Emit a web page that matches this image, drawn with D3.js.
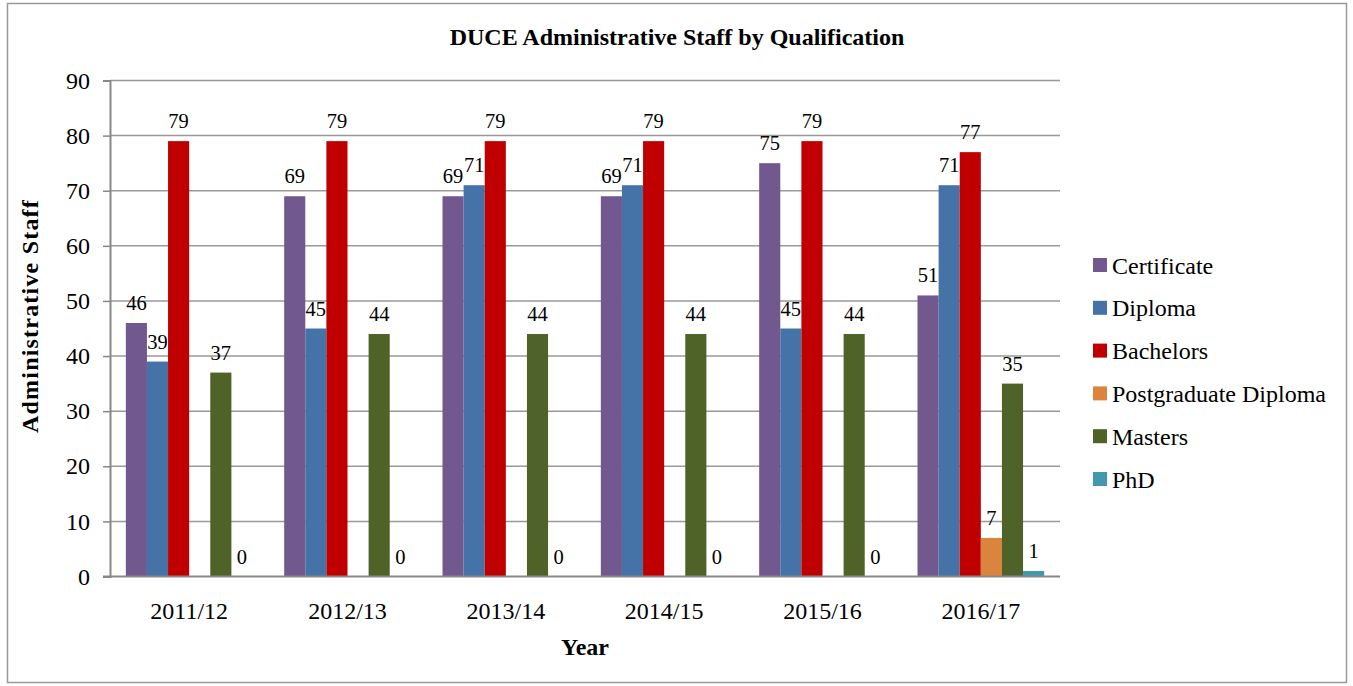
<!DOCTYPE html>
<html>
<head>
<meta charset="utf-8">
<script src="https://cdn.jsdelivr.net/npm/d3@7"></script>
<style>
  body { margin: 0; background: #fff; }
  #chart text { font-family: "Liberation Serif", "Times New Roman", serif; fill: #000; }
</style>
</head>
<body>
<svg id="chart" width="1353" height="686"></svg>
<script>
const years = ["2011/12", "2012/13", "2013/14", "2014/15", "2015/16", "2016/17"];
const qualifications = ["Certificate", "Diploma", "Bachelors", "Postgraduate Diploma", "Masters", "PhD"];
const certificate = [46, 69, 69, 69, 75, 51];
const diploma = [39, 45, 71, 71, 45, 71];
const bachelors = [79, 79, 79, 79, 79, 77];
const postgradDiploma = [null, null, null, null, null, 7];
const masters = [37, 44, 44, 44, 44, 35];
const phd = [0, 0, 0, 0, 0, 1];
const yTicks = [0, 10, 20, 30, 40, 50, 60, 70, 80, 90];
const colors = ["#71588F", "#4572A7", "#C00000", "#DB843D", "#4F6228", "#4198AF"];

const seriesValues = [certificate, diploma, bachelors, postgradDiploma, masters, phd];

const svg = d3.select("#chart");
const plot = { left: 110, right: 1060, top: 80.5, bottom: 576.5 };

// outer frame
svg.append("rect")
  .attr("x", 7.5).attr("y", 3.5)
  .attr("width", 1339).attr("height", 679)
  .attr("fill", "none").attr("stroke", "#999").attr("stroke-width", 1.5);

const x = d3.scaleBand().domain(years).range([plot.left, plot.right]).paddingInner(0).paddingOuter(0);
// gap width 150%: 6 bars + 1.5 bar gap per category
const barW = x.bandwidth() / 7.5;
const xInner = d3.scaleBand().domain(qualifications)
  .range([barW * 0.75, x.bandwidth() - barW * 0.75]);

const y = d3.scaleLinear().domain([0, 90]).range([plot.bottom, plot.top]);

// gridlines
svg.append("g").selectAll("line")
  .data(yTicks.filter(t => t > 0))
  .join("line")
  .attr("x1", plot.left).attr("x2", plot.right)
  .attr("y1", d => y(d)).attr("y2", d => y(d))
  .attr("stroke", "#999").attr("stroke-width", 1.5);

// y axis
const yAxis = svg.append("g")
  .attr("transform", `translate(${plot.left},0)`)
  .call(d3.axisLeft(y).tickValues(yTicks).tickSize(7).tickPadding(13));
yAxis.attr("font-family", null);
yAxis.select(".domain").attr("stroke", "#888").attr("stroke-width", 2);
yAxis.selectAll(".tick line").attr("stroke", "#888").attr("stroke-width", 1.5);
yAxis.selectAll(".tick text").attr("font-size", 24).attr("fill", "#000");

// bars
const groups = svg.append("g").selectAll("g")
  .data(years)
  .join("g")
  .attr("transform", d => `translate(${x(d)},0)`);

groups.each(function(year, yi) {
  const g = d3.select(this);
  const rows = qualifications.map((q, qi) => ({ q, qi, v: seriesValues[qi][yi] }))
    .filter(d => d.v !== null);
  g.selectAll("rect")
    .data(rows)
    .join("rect")
    .attr("x", d => xInner(d.q))
    .attr("width", xInner.bandwidth())
    .attr("y", d => y(d.v))
    .attr("height", d => y(0) - y(d.v))
    .attr("fill", d => colors[d.qi]);
  g.selectAll("text")
    .data(rows)
    .join("text")
    .attr("x", d => xInner(d.q) + xInner.bandwidth() / 2)
    .attr("y", d => y(d.v) - 13)
    .attr("text-anchor", "middle")
    .attr("font-size", 20.5)
    .text(d => d.v);
});

// x axis line
svg.append("line")
  .attr("x1", plot.left - 7).attr("x2", plot.right)
  .attr("y1", plot.bottom).attr("y2", plot.bottom)
  .attr("stroke", "#888").attr("stroke-width", 2);

// category labels
svg.append("g").selectAll("text")
  .data(years)
  .join("text")
  .attr("x", d => x(d) + x.bandwidth() / 2)
  .attr("y", 619)
  .attr("text-anchor", "middle")
  .attr("font-size", 24)
  .text(d => d);

// titles
svg.append("text")
  .attr("x", 677).attr("y", 45)
  .attr("text-anchor", "middle")
  .attr("font-size", 24).attr("font-weight", "bold")
  .text("DUCE Administrative Staff by Qualification");

svg.append("text")
  .attr("x", 585).attr("y", 655)
  .attr("text-anchor", "middle")
  .attr("font-size", 24).attr("font-weight", "bold")
  .text("Year");

svg.append("text")
  .attr("transform", `translate(38,316) rotate(-90)`)
  .attr("text-anchor", "middle")
  .attr("font-size", 24).attr("font-weight", "bold")
  .attr("letter-spacing", 1.2)
  .text("Administrative Staff");

// legend
const legend = svg.append("g").selectAll("g")
  .data(qualifications)
  .join("g")
  .attr("transform", (d, i) => `translate(1093,${265 + i * 42.8})`);
legend.append("rect")
  .attr("x", 0).attr("y", -7)
  .attr("width", 14).attr("height", 14)
  .attr("fill", (d, i) => colors[i]);
legend.append("text")
  .attr("x", 19).attr("y", 8.5)
  .attr("font-size", 24)
  .text(d => d);
</script>
</body>
</html>
